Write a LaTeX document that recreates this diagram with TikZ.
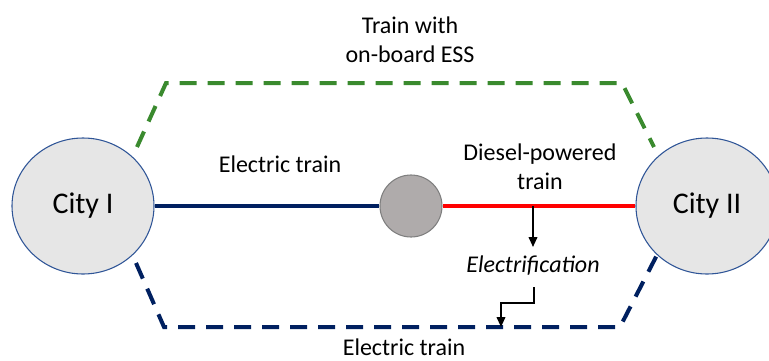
\documentclass[tikz,border=0pt]{standalone}
\usepackage{fontspec}
\setmainfont{Carlito}
\usetikzlibrary{arrows.meta,shapes.geometric}
\definecolor{cityfill}{HTML}{E6E6E6}
\definecolor{cityline}{HTML}{2F5597}
\definecolor{navy}{HTML}{002060}
\definecolor{ngreen}{HTML}{3A8A2E}
\definecolor{midgray}{HTML}{AFABAB}
\definecolor{midline}{HTML}{7F7F7F}
\begin{document}
\begin{tikzpicture}[x=0.75pt,y=-0.75pt,
  city/.style={ellipse,draw=cityline,fill=cityfill,line width=0.8pt,minimum width=106.5pt,minimum height=102pt,inner sep=0pt,font=\fontsize{22.5}{27}\selectfont},
  lbl/.style={font=\fontsize{18}{22}\selectfont,align=center,inner sep=0pt},
  dashroute/.style={line width=3pt,dash pattern=on 12.75pt off 8.25pt},
  arr/.style={draw=black,line width=1.3pt,-{Triangle[length=7.5pt,width=6.5pt]}}]
\useasboundingbox (0,0) rectangle (769,361);
\begin{scope}
\clip (0,0) rectangle (769,361);
\node[city] (c1) at (83,206) {City I};
\node[city] (c2) at (707,206) {City II};
\end{scope}
\node[circle,draw=midline,fill=midgray,line width=0.8pt,minimum size=46.5pt,inner sep=0pt] (mid) at (411,206) {};
\draw[navy,line width=2.5pt] (c1.east) -- (mid.west);
\draw[red,line width=3pt] (mid.east) -- (c2.west);
% green route
\coordinate (g1) at (137,147);
\coordinate (g2) at (166,83);
\coordinate (g3) at (622,83);
\coordinate (g4) at (654,147);
\draw[ngreen,dashroute] (g1) -- (g2) -- (g3) -- (g4);
% blue route
\coordinate (b1) at (136,263);
\coordinate (b2) at (164,327);
\coordinate (b3) at (620,327);
\coordinate (b4) at (658,253);
\draw[navy,dashroute] (b1) -- (b2) -- (b3) -- (b4);
% labels
\node[lbl] (tess) at (410,40) {Train with\\on-board ESS};
\node[lbl] (etop) at (280,164) {Electric train};
\node[lbl] (diesel) at (540,167) {Diesel-powered\\train};
\node[lbl,font=\fontsize{18}{22}\selectfont\itshape] (elec) at (533,266) {Electrification};
\node[lbl] (ebot) at (404,347) {Electric train};
% arrows
\coordinate (a1) at (533,206);
\coordinate (a2) at (533,247);
\draw[arr] (a1) -- (a2);
\coordinate (a3) at (534,287);
\coordinate (a4) at (534,303);
\coordinate (a5) at (501,303);
\coordinate (a6) at (501,327);
\draw[arr] (a3) -- (a4) -- (a5) -- (a6);
\end{tikzpicture}
\end{document}
